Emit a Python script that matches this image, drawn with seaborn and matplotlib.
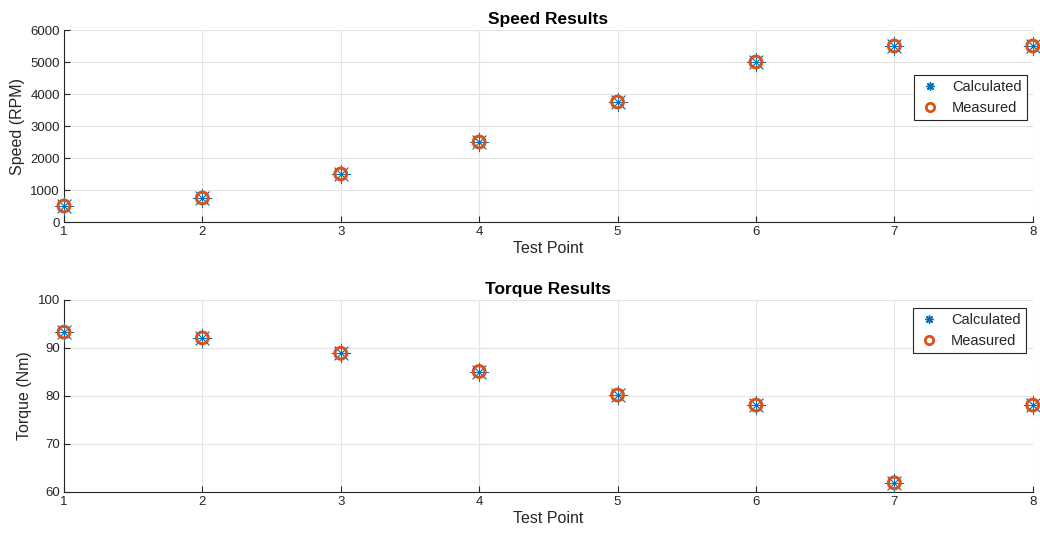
import numpy as np
import pandas as pd
import matplotlib
matplotlib.use("Agg")
import matplotlib.pyplot as plt
from matplotlib.lines import Line2D
import seaborn as sns

# data
test_points = [1, 2, 3, 4, 5, 6, 7, 8]
speed_calc = [500, 750, 1500, 2500, 3750, 5000, 5500, 5500]
speed_meas = [500, 750, 1500, 2500, 3750, 5000, 5500, 5500]
torque_calc = [93.3, 92.1, 88.9, 85.1, 80.2, 78.1, 61.9, 78.1]
torque_meas = [93.3, 92.1, 88.9, 85.1, 80.2, 78.1, 61.9, 78.1]

BLUE = "#0072BD"
ORANGE = "#D95319"
DARK = "#262626"

sns.set_style("whitegrid")
plt.rcParams['font.family'] = ['Liberation Sans', 'DejaVu Sans']

fig = plt.figure(figsize=(10.4, 5.42), dpi=100)
ax1 = fig.add_axes([0.0615, 0.5904, 0.9315, 0.3542])
ax2 = fig.add_axes([0.0615, 0.0923, 0.9315, 0.3542])


def draw_panel(ax, calc, meas, ylabel, title, ylim, yticks, legend_anchor):
    df = pd.DataFrame({"Test Point": test_points, "calc": calc, "meas": meas})
    sns.scatterplot(data=df, x="Test Point", y="calc", ax=ax, marker=(8, 2, 0),
                    s=180, color=BLUE, edgecolor=BLUE, linewidth=0.6,
                    legend=False, zorder=3, clip_on=False)
    sns.scatterplot(data=df, x="Test Point", y="meas", ax=ax, marker="o",
                    s=72, facecolors="none", edgecolor=ORANGE, linewidth=2.2,
                    legend=False, zorder=4, clip_on=False)
    ax.set_xlim(1, 8)
    ax.set_ylim(*ylim)
    ax.set_xticks(test_points)
    ax.set_yticks(yticks)
    ax.set_xlabel("Test Point", fontsize=11.5, color=DARK, labelpad=2)
    ax.set_ylabel(ylabel, fontsize=11.5, color=DARK, labelpad=4)
    ax.set_title(title, fontsize=12.5, fontweight="bold", color="black", pad=4)
    ax.grid(True, color="#e3e3e3", linewidth=0.8)
    for side in ["top", "right"]:
        ax.spines[side].set_visible(False)
    for side in ["left", "bottom"]:
        ax.spines[side].set_visible(True)
        ax.spines[side].set_color(DARK)
        ax.spines[side].set_linewidth(0.8)
    ax.tick_params(axis="both", direction="in", length=4, width=0.8,
                   colors=DARK, labelsize=9.5, pad=3, left=True, bottom=True)
    ax.set_axisbelow(True)
    handles = [
        Line2D([], [], linestyle="none", marker=(8, 2, 0), markersize=6,
               color=BLUE, markeredgewidth=1.0),
        Line2D([], [], linestyle="none", marker="o", markersize=6,
               markerfacecolor="none", markeredgecolor=ORANGE,
               markeredgewidth=2.0),
    ]
    leg = ax.legend(handles, ["Calculated", "Measured"], loc="upper right",
                    bbox_to_anchor=legend_anchor, borderaxespad=0,
                    frameon=True, fancybox=False, framealpha=1,
                    edgecolor=DARK, fontsize=10.5, handletextpad=0.7,
                    borderpad=0.35, labelspacing=0.45, handlelength=1.6)
    leg.get_frame().set_linewidth(0.8)


draw_panel(ax1, speed_calc, speed_meas, "Speed (RPM)", "Speed Results",
           (0, 6000), range(0, 6001, 1000), (0.994, 0.766))
draw_panel(ax2, torque_calc, torque_meas, "Torque (Nm)", "Torque Results",
           (60, 100), range(60, 101, 10), (0.993, 0.958))

fig.savefig("out.png", dpi=100)
